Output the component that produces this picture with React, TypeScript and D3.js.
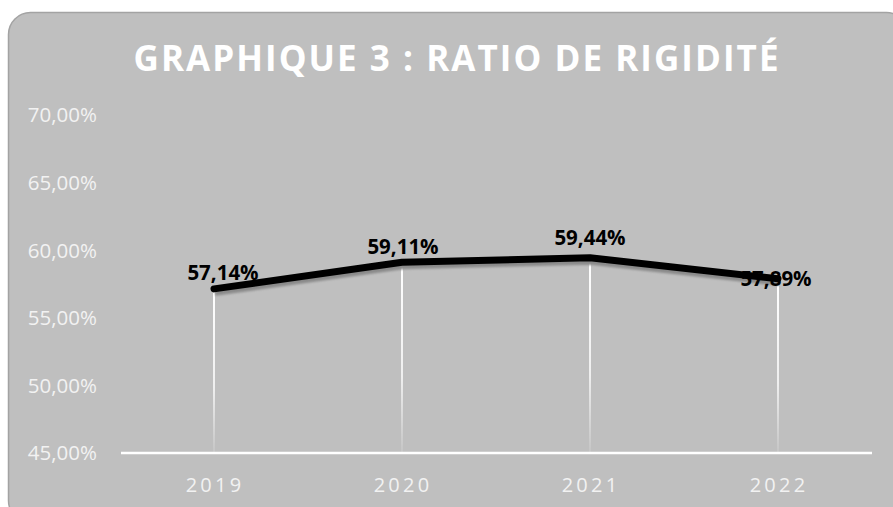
import React from "react";
import * as d3 from "d3";

const years = ["2019", "2020", "2021", "2022"];
const ratios = [0.5714, 0.5911, 0.5944, 0.5789];
const valueLabels = ["57,14%", "59,11%", "59,44%", "57,89%"];
const yTicks = [0.45, 0.5, 0.55, 0.6, 0.65, 0.7];
const title = "GRAPHIQUE 3 : RATIO DE RIGIDITÉ";
// label offsets (style): dx, dy relative to point
const labelOffsets = [
  [9, -16],
  [1, -16],
  [0, -20],
  [-2, 0],
];

const W = 893;
const H = 507;

export default function App() {
  const x = d3.scalePoint<string>().domain(years).range([120, 872]).padding(0.5);
  const y = d3.scaleLinear().domain([0.45, 0.7]).range([453, 115]);
  const fmt = (v: number) => d3.format(".2f")(v * 100).replace(".", ",") + "%";
  const line = d3
    .line<number>()
    .x((_, i) => x(years[i]) as number)
    .y((d) => y(d));
  const path = line(ratios) || "";
  const font = "'Open Sans', 'DejaVu Sans', sans-serif";

  return (
    <svg
      width={W}
      height={H}
      style={{ position: "absolute", left: 0, top: 0, background: "#fff" }}
    >
      <defs>
        <linearGradient id="drop" x1="0" y1="0" x2="0" y2="1">
          <stop offset="0" stopColor="#ffffff" stopOpacity={1} />
          <stop offset="0.6" stopColor="#ffffff" stopOpacity={0.75} />
          <stop offset="1" stopColor="#ffffff" stopOpacity={0.1} />
        </linearGradient>
        <filter id="blur" x="-5%" y="-50%" width="110%" height="200%">
          <feGaussianBlur stdDeviation="0.8" />
        </filter>
      </defs>
      <rect
        x={8.5}
        y={12.5}
        width={900}
        height={510}
        rx={22}
        ry={22}
        fill="#bfbfbf"
        stroke="#a3a3a3"
        strokeWidth={1.5}
      />
      <text
        x={456}
        y={71}
        textAnchor="middle"
        fill="#ffffff"
        fontFamily={font}
        fontWeight={700}
        fontSize={35}
        textLength={645}
        lengthAdjust="spacing"
      >
        {title}
      </text>
      {yTicks.map((t) => (
        <text
          key={t}
          x={97}
          y={y(t)}
          dy="0.36em"
          textAnchor="end"
          fill="#f2f2f2"
          fontFamily={font}
          fontSize={20.5}
        >
          {fmt(t)}
        </text>
      ))}
      {ratios.map((v, i) => (
        <rect
          key={"d" + i}
          x={(x(years[i]) as number) - 1}
          width={2}
          y={y(v)}
          height={y(0.45) - y(v)}
          fill="url(#drop)"
        />
      ))}
      <line x1={121} x2={872} y1={y(0.45)} y2={y(0.45)} stroke="#ffffff" strokeWidth={2.5} />
      {years.map((yr) => (
        <text
          key={yr}
          x={(x(yr) as number) + 1}
          y={492}
          textAnchor="middle"
          fill="#f2f2f2"
          fontFamily={font}
          fontSize={20}
          letterSpacing={3.2}
        >
          {yr}
        </text>
      ))}
      <path
        d={path}
        transform="translate(1,4)"
        fill="none"
        stroke="#8a8a8a"
        strokeWidth={6}
        strokeLinejoin="round"
        filter="url(#blur)"
      />
      <path d={path} fill="none" stroke="#000" strokeWidth={7} strokeLinejoin="round" strokeLinecap="round" />
      {ratios.map((v, i) => (
        <text
          key={"l" + i}
          x={(x(years[i]) as number) + labelOffsets[i][0]}
          y={y(v) + labelOffsets[i][1]}
          dy="0.36em"
          textAnchor="middle"
          fill="#000"
          fontFamily={font}
          fontWeight={700}
          fontSize={20.5}
        >
          {valueLabels[i]}
        </text>
      ))}
    </svg>
  );
}
